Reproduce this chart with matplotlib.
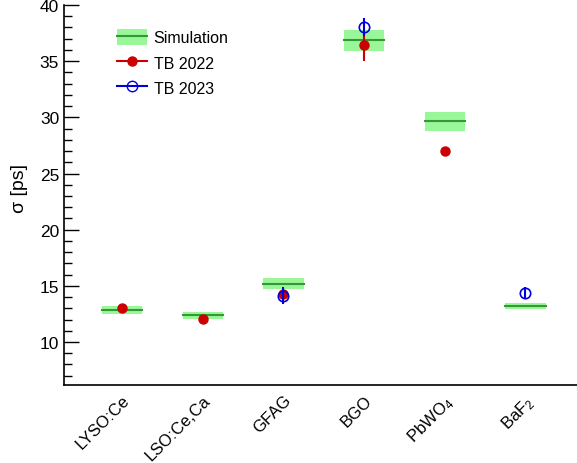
import numpy as np
import matplotlib.pyplot as plt
from matplotlib.patches import Patch
from matplotlib.lines import Line2D

plt.rcParams['font.family'] = ['Liberation Sans', 'DejaVu Sans']
plt.rcParams['mathtext.fontset'] = 'custom'
plt.rcParams['mathtext.rm'] = 'Liberation Sans'
plt.rcParams['mathtext.it'] = 'Liberation Sans'

crystals = ['LYSO:Ce', 'LSO:Ce,Ca', 'GFAG', 'BGO', 'PbWO$_4$', 'BaF$_2$']

# simulation: central value and band limits
sim_mean = [12.85, 12.37, 15.2, 36.87, 29.65, 13.2]
sim_low = [12.5, 12.05, 14.75, 35.9, 28.8, 12.95]
sim_high = [13.2, 12.7, 15.67, 37.8, 30.45, 13.45]

# test beam 2022 (no BaF2)
tb22_x = [0, 1, 2, 3, 4]
tb22_y = [13.05, 12.05, 14.27, 36.45, 27.0]
tb22_err = [0.2, 0.2, 0.3, 1.45, 0.2]

# test beam 2023
tb23_x = [2, 3, 5]
tb23_y = [14.12, 38.02, 14.34]
tb23_err = [0.74, 0.8, 0.55]

band_col = '#99f799'
line_col = '#339933'
red = '#cc0000'
blue = '#0000dd'

fig = plt.figure(figsize=(5.77, 4.64), dpi=100)
ax = fig.add_axes([0.111, 0.168, 0.889, 0.819])

x = np.arange(len(crystals))
hw = 0.25
for xi, m, lo, hi in zip(x, sim_mean, sim_low, sim_high):
    ax.fill_between([xi - hw, xi + hw], lo, hi, color=band_col, lw=0, zorder=1)
    ax.plot([xi - hw, xi + hw], [m, m], color=line_col, lw=1.5, zorder=2)

ax.errorbar(tb22_x, tb22_y, yerr=tb22_err, fmt='o', color=red,
            ms=6.5, elinewidth=1.5, capsize=0, zorder=3)
ax.errorbar(tb23_x, tb23_y, yerr=tb23_err, fmt='o', color=blue,
            mfc='none', mec=blue, ms=7.5, mew=1.2, elinewidth=1.5,
            capsize=0, zorder=4)

ax.set_xlim(-0.72, 5.64)
ax.set_ylim(6.17, 40)
ax.set_xticks(x)
ax.set_xticklabels(crystals, rotation=45, ha='right', va='top',
                   rotation_mode='anchor', fontsize=12)
ax.tick_params(axis='x', length=0, pad=5)
ax.set_yticks([10, 15, 20, 25, 30, 35, 40])
ax.set_yticks(np.arange(7, 41, 1), minor=True)
ax.tick_params(axis='y', which='major', direction='in', length=11, width=1, labelsize=12.5)
ax.tick_params(axis='y', which='minor', direction='in', length=6, width=1)
ax.set_ylabel('σ [ps]', fontsize=14)
ax.yaxis.set_label_coords(-0.070, 0.52)

for s in ['top', 'right']:
    ax.spines[s].set_visible(False)
for s in ['left', 'bottom']:
    ax.spines[s].set_linewidth(1.2)

handles = [
    (Patch(facecolor=band_col, edgecolor='none'),
     Line2D([], [], color=line_col, lw=1.5)),
    Line2D([], [], color=red, marker='o', ms=6.5, lw=1.5),
    Line2D([], [], color=blue, marker='o', mfc='none', ms=7.5, lw=1.5),
]
ax.legend(handles, ['Simulation', 'TB 2022', 'TB 2023'], loc='upper left',
          bbox_to_anchor=(0.075, 0.975), frameon=False, fontsize=11.5,
          handlelength=1.9, handleheight=1.2, handletextpad=0.4,
          labelspacing=0.55)

fig.savefig('out.png', dpi=100)
